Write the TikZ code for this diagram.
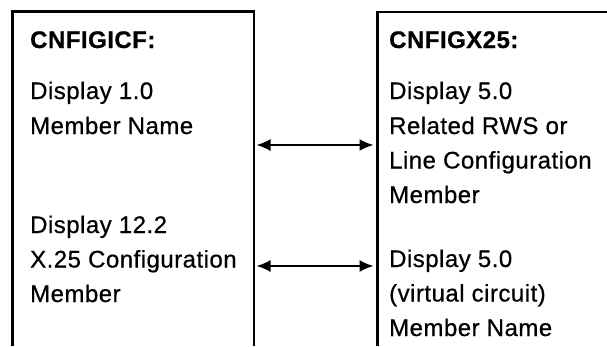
\documentclass[tikz,border=0pt]{standalone}
\usepackage{fontspec}
\setmainfont[LetterSpace=2,FakeBold=0.6]{Liberation Sans}
\usetikzlibrary{arrows.meta}
\begin{document}
\begin{tikzpicture}[x=1pt,y=1pt,
  boxline/.style={line width=2.4pt},
  txt/.style={anchor=base west,inner sep=0pt,font=\fontsize{24}{28}\selectfont},
  ttl/.style={txt,font=\fontsize{24}{28}\selectfont\bfseries},
  link/.style={line width=1.8pt,{Latex[length=14pt,width=12pt]}-{Latex[length=14pt,width=12pt]}}]
\useasboundingbox (0,0) rectangle (607,-346);
% boxes (open at the bottom, right box cut by the edge)
\draw[boxline] (12.5,-346) |- (254,-11.5) -- (254,-346);
\draw[boxline] (377.5,-346) |- (607,-12);
% left texts
\node[ttl] (lt) at (30,-48) {CNFIGICF:};
\node[txt] (la1) at (30,-99) {Display 1.0};
\node[txt] (la2) at (30,-134) {Member Name};
\node[txt] (lb1) at (30,-233) {Display 12.2};
\node[txt] (lb2) at (30,-267.5) {X.25 Configuration};
\node[txt] (lb3) at (30,-302) {Member};
% right texts
\node[ttl] (rt) at (389,-48) {CNFIGX25:};
\node[txt] (ra1) at (389,-99) {Display 5.0};
\node[txt] (ra2) at (389,-134) {Related RWS or};
\node[txt] (ra3) at (389,-168.5) {Line Configuration};
\node[txt] (ra4) at (389,-203) {Member};
\node[txt] (rb1) at (389,-267) {Display 5.0};
\node[txt] (rb2) at (389,-301.5) {(virtual circuit)};
\node[txt] (rb3) at (389,-336) {Member Name};
% arrows
\coordinate (a1l) at (256.5,-145);
\coordinate (a1r) at (373.5,-145);
\coordinate (a2l) at (256.5,-266);
\coordinate (a2r) at (373.5,-266);
\draw[link] (a1l) -- (a1r);
\draw[link] (a2l) -- (a2r);
\end{tikzpicture}
\end{document}
